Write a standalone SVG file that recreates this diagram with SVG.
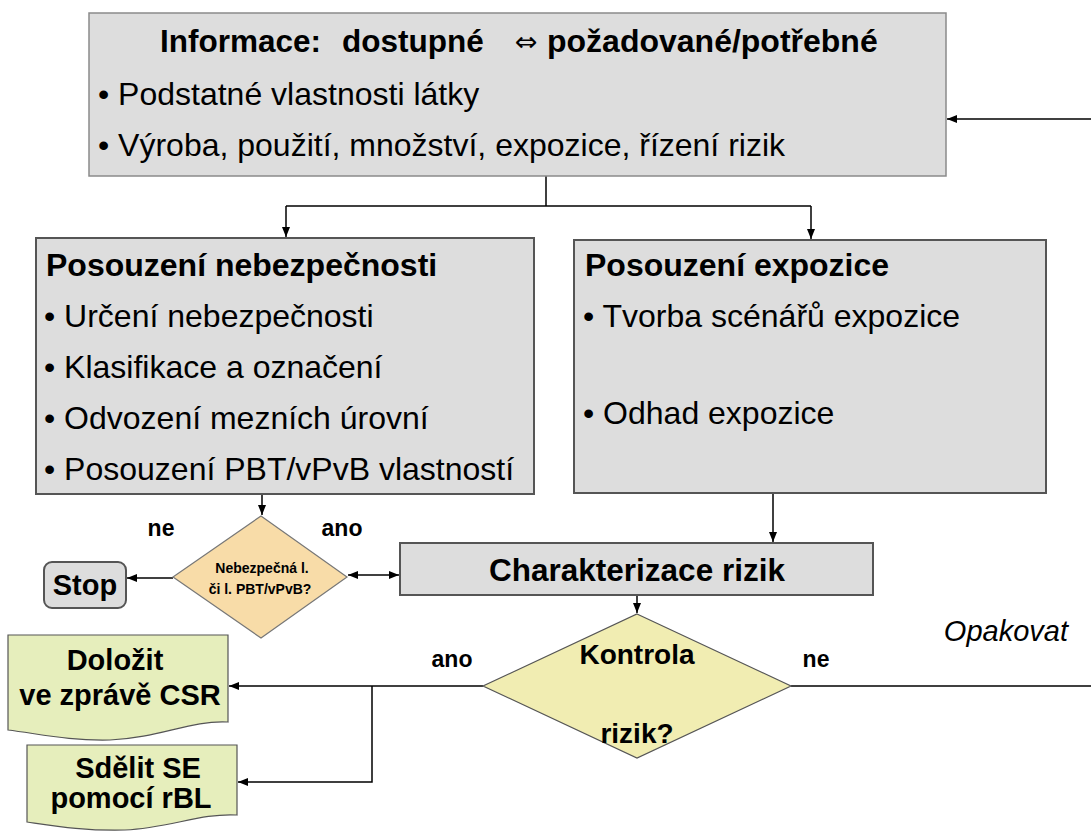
<svg xmlns="http://www.w3.org/2000/svg" width="1091" height="831" viewBox="0 0 1091 831">
<style>
.box{fill:#dddddd;stroke:#555555;stroke-width:2}
.tbox{fill:#dddddd;stroke:#8a8a8a;stroke-width:1.5}
.t{font-family:"Liberation Sans",Arial,sans-serif;fill:#000}
.b{font-weight:bold}
.c{stroke:#000;stroke-width:1.5;fill:none}
.dia1{fill:#f8dca8;stroke:#777;stroke-width:1.2}
.dia2{fill:#f1edb2;stroke:#555;stroke-width:1.2}
.doc{fill:#e6eebc;stroke:#555;stroke-width:1.2}
</style>
<defs>
<marker id="ah" markerWidth="10" markerHeight="8" refX="10" refY="4" orient="auto" markerUnits="userSpaceOnUse">
<path d="M0,0 L10,4 L0,8 Z" fill="#000"/>
</marker>
<marker id="ahs" markerWidth="10" markerHeight="8" refX="0" refY="4" orient="auto" markerUnits="userSpaceOnUse">
<path d="M10,0 L0,4 L10,8 Z" fill="#000"/>
</marker>
</defs>
<rect width="1091" height="831" fill="#ffffff"/>

<g id="connectors">
<line class="c" x1="1091" y1="119" x2="947" y2="119" marker-end="url(#ah)"/>
<polyline class="c" points="546,176 546,206"/>
<polyline class="c" points="286,206 811,206"/>
<line class="c" x1="286" y1="206" x2="286" y2="237" marker-end="url(#ah)"/>
<line class="c" x1="811" y1="206" x2="811" y2="239" marker-end="url(#ah)"/>
<line class="c" x1="262" y1="495" x2="262" y2="515" marker-end="url(#ah)"/>
<line class="c" x1="173" y1="578" x2="127" y2="578" marker-end="url(#ah)"/>
<line class="c" x1="348" y1="575" x2="399" y2="575" marker-start="url(#ahs)" marker-end="url(#ah)"/>
<line class="c" x1="773" y1="494" x2="773" y2="542" marker-end="url(#ah)"/>
<line class="c" x1="637" y1="596" x2="637" y2="613" marker-end="url(#ah)"/>
<line class="c" x1="483" y1="686" x2="229" y2="686" marker-end="url(#ah)"/>
<polyline class="c" points="372,686 372,782 238,782" marker-end="url(#ah)"/>
<line class="c" x1="791" y1="686" x2="1091" y2="686"/>
</g>

<g id="info">
<rect class="tbox" x="89" y="13" width="857" height="163"/>
<text class="t b" x="160" y="52" font-size="31.5">Informace:</text>
<text class="t b" x="342" y="52" font-size="31.5">dostupné</text>
<text x="515" y="51" font-size="27" font-family="DejaVu Sans,sans-serif" fill="#000">⇔</text>
<text class="t b" x="547" y="52" font-size="32">požadované/potřebné</text>
<text class="t" x="98" y="105" font-size="32">• Podstatné vlastnosti látky</text>
<text class="t" x="98" y="156" font-size="32">• Výroba, použití, množství, expozice, řízení rizik</text>
</g>

<g id="hazard">
<rect class="box" x="36" y="238" width="498" height="256"/>
<text class="t b" x="46" y="276" font-size="32">Posouzení nebezpečnosti</text>
<text class="t" x="44" y="327" font-size="32">• Určení nebezpečnosti</text>
<text class="t" x="44" y="378" font-size="32">• Klasifikace a označení</text>
<text class="t" x="44" y="429" font-size="32">• Odvození mezních úrovní</text>
<text class="t" x="44" y="480" font-size="32">• Posouzení PBT/vPvB vlastností</text>
</g>

<g id="exposure">
<rect class="box" x="574" y="240" width="472" height="253"/>
<text class="t b" x="585" y="276" font-size="32">Posouzení expozice</text>
<text class="t" x="583" y="327" font-size="32">• Tvorba scénářů expozice</text>
<text class="t" x="583" y="424" font-size="32">• Odhad expozice</text>
</g>

<g id="decision1">
<polygon class="dia1" points="261,516 347,577 261,638 173,577"/>
<text class="t b" x="262" y="573" font-size="14" text-anchor="middle">Nebezpečná l.</text>
<text class="t b" x="260" y="594" font-size="14" text-anchor="middle">či l. PBT/vPvB?</text>
</g>
<text class="t b" x="161" y="536" font-size="23" text-anchor="middle">ne</text>
<text class="t b" x="342" y="536" font-size="23" text-anchor="middle">ano</text>

<g id="stop">
<rect class="box" x="44" y="562" width="82" height="46" rx="8"/>
<text class="t b" x="85" y="595" font-size="29" text-anchor="middle">Stop</text>
</g>

<g id="risk">
<rect class="box" x="400" y="543" width="473" height="52"/>
<text class="t b" x="637" y="581" font-size="31.5" text-anchor="middle">Charakterizace rizik</text>
</g>

<g id="decision2">
<polygon class="dia2" points="637,614 791,686 637,758 483,686"/>
<text class="t b" x="637" y="664" font-size="28" text-anchor="middle">Kontrola</text>
<text class="t b" x="637" y="743" font-size="28" text-anchor="middle">rizik?</text>
</g>
<text class="t b" x="452" y="667" font-size="23" text-anchor="middle">ano</text>
<text class="t b" x="816" y="667" font-size="23" text-anchor="middle">ne</text>
<text class="t" x="1068" y="641" font-size="29" font-style="italic" text-anchor="end">Opakovat</text>

<g id="csr">
<path class="doc" d="M8,635 H228 V722 C190,720 160,738 110,740 C70,741 40,734 8,730 Z"/>
<text class="t b" x="115" y="670" font-size="29" text-anchor="middle">Doložit</text>
<text class="t b" x="120" y="705" font-size="29" text-anchor="middle">ve zprávě CSR</text>
</g>

<g id="se">
<path class="doc" d="M27,745 H237 V815 C200,813 170,828 125,830 C85,831 55,826 27,822 Z"/>
<text class="t b" x="138" y="778" font-size="29" text-anchor="middle">Sdělit SE</text>
<text class="t b" x="131" y="808" font-size="29" text-anchor="middle">pomocí rBL</text>
</g>
</svg>
